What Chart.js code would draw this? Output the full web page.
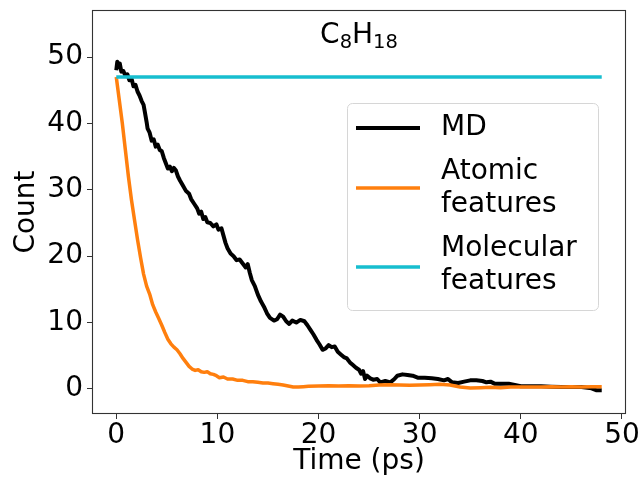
<!DOCTYPE html>
<html>
<head>
<meta charset="utf-8">
<script src="https://cdn.jsdelivr.net/npm/chart.js@4.4.1/dist/chart.umd.min.js"></script>
<style>
  html, body { margin: 0; padding: 0; background: #ffffff; }
  #wrap { width: 639px; height: 479px; }
</style>
</head>
<body>
<div id="wrap"><canvas id="c" width="639" height="479"></canvas></div>
<script>
// ---- data ----
const mdTime = [0,0.1,0.2,0.35,0.5,0.7,0.9,1.1,1.3,1.5,1.7,1.9,2.1,2.3,2.5,2.7,2.85,3.0,3.1,3.3,3.5,3.7,3.9,4.1,4.3,4.5,4.7,4.9,5.1,5.3,5.5,5.7,5.9,6.1,6.3,6.6,6.9,7.2,7.4,7.7,8.0,8.2,8.4,8.6,8.8,9.0,9.3,9.6,9.9,10.1,10.4,10.6,10.8,11.0,11.3,11.6,11.9,12.2,12.5,12.8,13.0,13.2,13.4,13.7,14.0,14.3,14.6,14.9,15.2,15.6,15.9,16.2,16.5,16.8,17.1,17.4,17.8,18.2,18.6,18.9,19.2,19.5,19.8,20.1,20.4,20.7,21.0,21.3,21.6,21.9,22.2,22.5,22.8,23.1,23.4,23.7,24.0,24.2,24.4,24.6,24.8,25.1,25.4,25.8,26.1,26.6,27.1,27.5,27.8,28.3,28.8,29.3,29.8,30.5,31.2,31.8,32.4,32.8,33.2,33.8,34.4,35.0,35.6,36.2,36.6,37.0,37.4,38.0,38.8,39.4,40,41,42,43,44,45,46,47,47.5,48];
const mdCount = [48,49.3,48.5,49,47.8,47.9,47.2,47.4,46.5,46.8,45.6,45.8,44.8,44.2,43.4,42.8,41.5,40.2,39.2,38.6,37.4,37.6,36.5,36.8,36.0,35.8,34.8,34.0,33.2,33.5,32.8,33.3,32.9,32.0,31.4,30.6,29.8,29.4,28.6,27.9,27.2,26.4,26.7,25.6,25.9,25.1,25.0,24.5,24.8,24.0,24.2,23.1,22.0,21.2,20.4,20.0,19.4,19.5,18.9,18.3,18.8,17.5,16.4,15.5,14.2,13.2,12.4,11.4,10.7,10.3,10.5,11.2,10.9,10.2,9.8,10.3,10.0,10.4,10.2,9.6,8.9,8.2,7.4,6.7,5.9,6.1,6.6,6.3,6.4,5.6,5.2,4.8,4.6,4.0,3.6,3.2,2.9,2.3,2.7,1.5,2.0,1.6,1.4,1.5,1.0,1.2,1.0,1.5,2.0,2.2,2.1,2.0,1.7,1.7,1.6,1.5,1.3,1.5,1.0,0.9,1.1,1.3,1.3,1.2,1.0,1.1,0.8,0.8,0.8,0.6,0.4,0.4,0.4,0.35,0.3,0.3,0.3,0.1,-0.2,-0.2];

const atomicTime = [0,0.3,0.6,0.9,1.2,1.5,1.8,2.1,2.4,2.7,3.0,3.3,3.6,3.9,4.2,4.5,4.8,5.1,5.4,5.7,6.0,6.3,6.6,6.9,7.2,7.5,7.8,8.1,8.4,8.7,9.0,9.3,9.6,9.9,10.2,10.6,11.0,11.5,12.0,12.5,13.0,13.5,14.0,14.5,15,15.5,16,16.5,17,17.5,18,18.5,19,20,21,22,23,24,25,26,27,28,29,30,31,32,33,34,35,36,37,38,39,40,41,42,43,44,45,46,47,48];
const atomicCount = [47,43.5,40,36,32,28.5,25.5,22.5,19.8,17.3,15.5,14.3,12.7,11.6,10.6,9.6,8.5,7.5,6.8,6.3,5.9,5.3,4.6,4.0,3.4,3.0,2.8,2.9,2.6,2.5,2.6,2.3,2.2,2.0,1.7,1.8,1.5,1.5,1.3,1.3,1.1,1.1,1.0,0.9,0.9,0.8,0.7,0.6,0.45,0.3,0.3,0.35,0.4,0.45,0.5,0.45,0.5,0.45,0.5,0.6,0.65,0.6,0.55,0.6,0.65,0.7,0.6,0.3,0.15,0.2,0.25,0.2,0.3,0.3,0.3,0.3,0.35,0.3,0.35,0.3,0.35,0.35];

const molTime = [0,48];
const molCount = [47,47];

const seriesLabels = [["MD"], ["Atomic", "features"], ["Molecular", "features"]];
const xTickValues = [0,10,20,30,40,50];
const yTickValues = [0,10,20,30,40,50];
const titleParts = [["C", false], ["8", true], ["H", false], ["18", true]];

function pairs(xs, ys) { return xs.map((x, i) => ({ x: x, y: ys[i] })); }

const FONT = "'DejaVu Sans', sans-serif";

const framePlugin = {
  id: 'frame',
  afterDatasetsDraw(chart) {
    const { ctx, chartArea: a } = chart;
    ctx.save();
    ctx.strokeStyle = '#333';
    ctx.lineWidth = 1.1;
    ctx.strokeRect(a.left + 0.5, a.top + 0.5, a.right - a.left - 1, a.bottom - a.top - 1);
    ctx.restore();
  }
};

const titlePlugin = {
  id: 'subTitle',
  afterDatasetsDraw(chart) {
    const { ctx, chartArea: a } = chart;
    ctx.save();
    ctx.fillStyle = '#000';
    ctx.textBaseline = 'alphabetic';
    const big = 28, small = 19.5;
    let total = 0;
    titleParts.forEach(([t, sub]) => {
      ctx.font = (sub ? small : big) + 'px ' + FONT;
      total += ctx.measureText(t).width;
    });
    let x = (a.left + a.right) / 2 - total / 2;
    const base = 43;
    titleParts.forEach(([t, sub]) => {
      ctx.font = (sub ? small : big) + 'px ' + FONT;
      ctx.fillText(t, x, sub ? base + 5 : base);
      x += ctx.measureText(t).width;
    });
    ctx.restore();
  }
};

const legendPlugin = {
  id: 'boxLegend',
  afterDatasetsDraw(chart) {
    const { ctx } = chart;
    const bx = 347, by = 103, bw = 251, bh = 207;
    ctx.save();
    ctx.beginPath();
    ctx.roundRect(bx + 0.5, by + 0.5, bw, bh, 5);
    ctx.fillStyle = 'rgba(255,255,255,0.8)';
    ctx.fill();
    ctx.strokeStyle = '#d6d6d6';
    ctx.lineWidth = 1;
    ctx.stroke();
    const lineYs = [128, 188, 267];
    const textYs = [[128], [172, 205], [249, 282]];
    ctx.font = '28px ' + FONT;
    ctx.textBaseline = 'middle';
    ctx.fillStyle = '#000';
    chart.data.datasets.forEach((ds, i) => {
      ctx.beginPath();
      ctx.moveTo(356, lineYs[i]);
      ctx.lineTo(420, lineYs[i]);
      ctx.strokeStyle = ds.borderColor;
      ctx.lineWidth = ds.borderWidth;
      ctx.stroke();
      seriesLabels[i].forEach((line, j) => {
        ctx.fillText(line, 441, textYs[i][j]);
      });
    });
    ctx.restore();
  }
};

new Chart(document.getElementById('c'), {
  type: 'line',
  data: {
    datasets: [
      { label: seriesLabels[0].join(' '), data: pairs(mdTime, mdCount), borderColor: '#000000', borderWidth: 4, order: 3 },
      { label: seriesLabels[1].join(' '), data: pairs(atomicTime, atomicCount), borderColor: '#ff7f0e', borderWidth: 3.5, order: 2 },
      { label: seriesLabels[2].join(' '), data: pairs(molTime, molCount), borderColor: '#17becf', borderWidth: 3.5, order: 1 }
    ]
  },
  options: {
    responsive: false,
    animation: false,
    parsing: true,
    elements: { point: { radius: 0 }, line: { tension: 0, borderJoinStyle: 'round', borderCapStyle: 'butt' } },
    layout: { padding: { left: 0, right: 13, top: 10, bottom: 0 } },
    plugins: { legend: { display: false }, tooltip: { enabled: false }, title: { display: false } },
    scales: {
      x: {
        type: 'linear',
        min: -2.4, max: 50.4,
        afterBuildTicks: (s) => { s.ticks = xTickValues.map(v => ({ value: v })); },
        afterFit: (s) => { s.height = 65; s.paddingLeft = 0; s.paddingRight = 0; },
        grid: { drawOnChartArea: false, drawTicks: true, tickLength: 5, tickColor: '#333', color: '#333' },
        border: { display: false },
        ticks: { color: '#000', font: { family: FONT, size: 28 }, padding: 0, maxRotation: 0, autoSkip: false },
        title: { display: true, text: 'Time (ps)', color: '#000', font: { family: FONT, size: 28 }, padding: { top: 0, bottom: 0 } }
      },
      y: {
        type: 'linear',
        min: -3.77, max: 57.08,
        afterBuildTicks: (s) => { s.ticks = yTickValues.map(v => ({ value: v })); },
        afterFit: (s) => { s.width = 92; s.paddingTop = 0; s.paddingBottom = 0; },
        grid: { drawOnChartArea: false, drawTicks: true, tickLength: 5, tickColor: '#333', color: '#333' },
        border: { display: false },
        ticks: { color: '#000', font: { family: FONT, size: 28 }, padding: 4, autoSkip: false },
        title: { display: true, text: 'Count', color: '#000', font: { family: FONT, size: 28 }, padding: { top: 10, bottom: 0 } }
      }
    }
  },
  plugins: [framePlugin, titlePlugin, legendPlugin]
});
</script>
</body>
</html>
